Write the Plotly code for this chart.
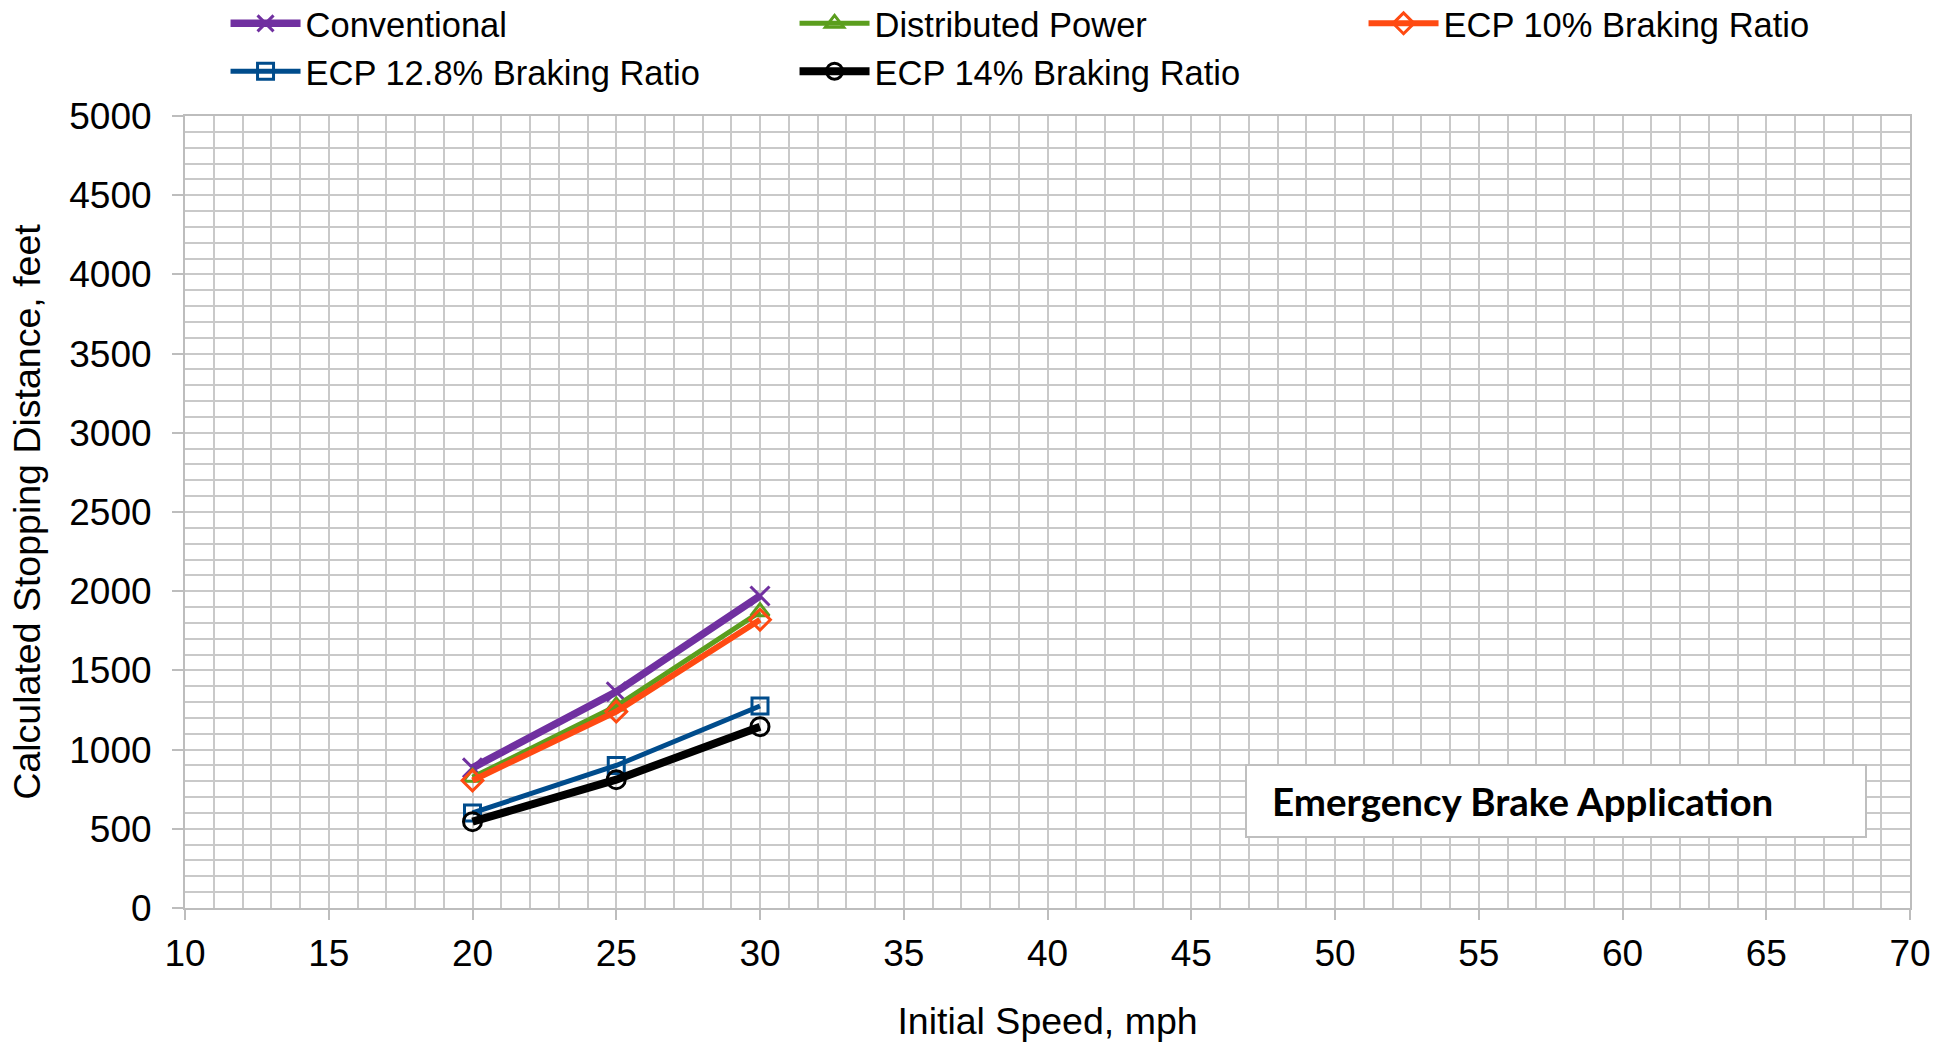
import plotly.graph_objects as go

# Initial speed (mph) and calculated stopping distance (feet) per brake configuration
speeds = [20, 25, 30]
conventional = [885, 1365, 1970]
distributed_power = [825, 1275, 1870]
ecp_10 = [805, 1240, 1820]
ecp_12_8 = [600, 900, 1275]
ecp_14 = [545, 810, 1145]

series_names = [
    "Conventional",
    "Distributed Power",
    "ECP 10% Braking Ratio",
    "ECP 12.8% Braking Ratio",
    "ECP 14% Braking Ratio",
]

x_ticks = list(range(10, 71, 5))
y_ticks = list(range(0, 5001, 500))

styles = [
    dict(color="#7030A0", width=7.5, symbol="x-thin-open", size=19),
    dict(color="#5B9E1E", width=5, symbol="triangle-up-open", size=16),
    dict(color="#FF4A12", width=6, symbol="diamond-open", size=16),
    dict(color="#004C8C", width=5, symbol="square-open", size=16),
    dict(color="#000000", width=8, symbol="circle-open", size=18),
]

fig = go.Figure()
for name, values, st in zip(
    series_names,
    [conventional, distributed_power, ecp_10, ecp_12_8, ecp_14],
    styles,
):
    fig.add_trace(
        go.Scatter(
            x=speeds,
            y=values,
            name=name,
            mode="lines+markers",
            line=dict(color=st["color"], width=st["width"]),
            marker=dict(
                symbol=st["symbol"],
                size=st["size"],
                color=st["color"],
                line=dict(color=st["color"], width=3),
            ),
        )
    )

grid_color = "#C9C9C9"
axis_color = "#BDBDBD"
font_family = "Liberation Sans, Arial, sans-serif"

fig.update_layout(
    width=1956,
    height=1042,
    paper_bgcolor="white",
    plot_bgcolor="white",
    margin=dict(l=185, r=46, t=116, b=134, autoexpand=False),
    font=dict(family=font_family, color="black", size=34),
    showlegend=True,
    legend=dict(
        orientation="h",
        x=0.0235,
        xanchor="left",
        y=1.1535,
        yanchor="top",
        xref="paper",
        entrywidth=484,
        entrywidthmode="pixels",
        itemwidth=70,
        tracegroupgap=0,
        font=dict(family=font_family, size=34.5, color="black"),
        bgcolor="rgba(0,0,0,0)",
        traceorder="normal",
    ),
    xaxis=dict(
        range=[10, 70],
        tickmode="array",
        tickvals=x_ticks,
        ticktext=[str(v) for v in x_ticks],
        showgrid=True,
        gridcolor=grid_color,
        gridwidth=1.5,
        minor=dict(dtick=1, tick0=10, showgrid=True, gridcolor=grid_color, gridwidth=1.5),
        showline=True,
        mirror=True,
        linecolor=axis_color,
        linewidth=2,
        ticks="outside",
        ticklen=10,
        tickwidth=1.5,
        tickcolor=axis_color,
        tickfont=dict(size=37, family=font_family),
        ticklabelstandoff=2,
        zeroline=False,
        title=dict(text="Initial Speed, mph", font=dict(size=37.5, family=font_family), standoff=34),
    ),
    yaxis=dict(
        range=[0, 5000],
        tickmode="array",
        tickvals=y_ticks,
        ticktext=[str(v) for v in y_ticks],
        showgrid=True,
        gridcolor=grid_color,
        gridwidth=1.5,
        minor=dict(dtick=100, tick0=0, showgrid=True, gridcolor=grid_color, gridwidth=1.5),
        showline=True,
        mirror=True,
        linecolor=axis_color,
        linewidth=2,
        ticks="outside",
        ticklen=11,
        tickwidth=1.5,
        tickcolor=axis_color,
        tickfont=dict(size=37, family=font_family),
        ticklabelstandoff=13,
        zeroline=False,
        title=dict(
            text="Calculated Stopping Distance, feet",
            font=dict(size=37.5, family=font_family),
            standoff=17,
        ),
    ),
)

# Label box in the lower-right of the plotting area
fig.add_shape(
    type="rect",
    xref="paper",
    yref="paper",
    x0=(1246 - 185) / 1725,
    x1=(1866 - 185) / 1725,
    y0=(908 - 837) / 792,
    y1=(908 - 765) / 792,
    fillcolor="white",
    line=dict(color="#BFBFBF", width=2),
    layer="above",
)
fig.add_annotation(
    text="<b>Emergency Brake Application</b>",
    xref="paper",
    yref="paper",
    x=(1270 - 185) / 1725,
    y=(908 - 801) / 792,
    xanchor="left",
    yanchor="middle",
    showarrow=False,
    font=dict(family="Lato, Open Sans, sans-serif", size=38.5, color="black"),
)

fig.write_html("out.html")
